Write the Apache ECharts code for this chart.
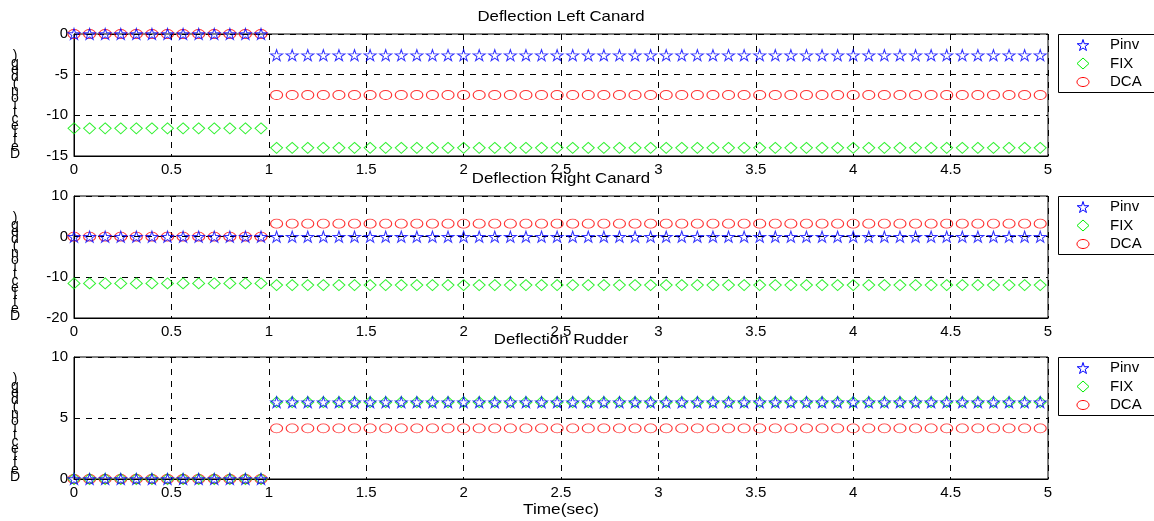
<!DOCTYPE html>
<html>
<head>
<meta charset="utf-8">
<script src="https://cdn.jsdelivr.net/npm/echarts@6/dist/echarts.min.js"></script>
<style>html,body{margin:0;padding:0;background:#fff;}#c{width:1154px;height:521px;}</style>
</head>
<body>
<div id="c"></div>
<script>
const time = [0,0.08,0.16,0.24,0.32,0.40,0.48,0.56,0.64,0.72,0.80,0.88,0.96,
1.04,1.12,1.20,1.28,1.36,1.44,1.52,1.60,1.68,1.76,1.84,1.92,2.00,2.08,2.16,2.24,2.32,2.40,2.48,2.56,2.64,2.72,2.80,2.88,2.96,
3.04,3.12,3.20,3.28,3.36,3.44,3.52,3.60,3.68,3.76,3.84,3.92,4.00,4.08,4.16,4.24,4.32,4.40,4.48,4.56,4.64,4.72,4.80,4.88,4.96];

const titles = ['Deflection Left Canard', 'Deflection Right Canard', 'Deflection Rudder'];
const seriesNames = ['Pinv', 'FIX', 'DCA'];
const xTicks = [0, 0.5, 1, 1.5, 2, 2.5, 3, 3.5, 4, 4.5, 5];
const yRanges = [[-15, 0, 5], [-20, 10, 10], [0, 10, 5]];
const xName = 'Time(sec)';
const yLabel = 'Deflection(deg)';

// Left canard
const leftPinv = [0,0,0,0,0,0,0,0,0,0,0,0,0,
-2.6,-2.6,-2.6,-2.6,-2.6,-2.6,-2.6,-2.6,-2.6,-2.6,-2.6,-2.6,-2.6,-2.6,-2.6,-2.6,-2.6,-2.6,-2.6,-2.6,-2.6,-2.6,-2.6,-2.6,-2.6,
-2.6,-2.6,-2.6,-2.6,-2.6,-2.6,-2.6,-2.6,-2.6,-2.6,-2.6,-2.6,-2.6,-2.6,-2.6,-2.6,-2.6,-2.6,-2.6,-2.6,-2.6,-2.6,-2.6,-2.6,-2.6];
const leftFix = [-11.6,-11.6,-11.6,-11.6,-11.6,-11.6,-11.6,-11.6,-11.6,-11.6,-11.6,-11.6,-11.6,
-14,-14,-14,-14,-14,-14,-14,-14,-14,-14,-14,-14,-14,-14,-14,-14,-14,-14,-14,-14,-14,-14,-14,-14,-14,
-14,-14,-14,-14,-14,-14,-14,-14,-14,-14,-14,-14,-14,-14,-14,-14,-14,-14,-14,-14,-14,-14,-14,-14,-14];
const leftDca = [0,0,0,0,0,0,0,0,0,0,0,0,0,
-7.5,-7.5,-7.5,-7.5,-7.5,-7.5,-7.5,-7.5,-7.5,-7.5,-7.5,-7.5,-7.5,-7.5,-7.5,-7.5,-7.5,-7.5,-7.5,-7.5,-7.5,-7.5,-7.5,-7.5,-7.5,
-7.5,-7.5,-7.5,-7.5,-7.5,-7.5,-7.5,-7.5,-7.5,-7.5,-7.5,-7.5,-7.5,-7.5,-7.5,-7.5,-7.5,-7.5,-7.5,-7.5,-7.5,-7.5,-7.5,-7.5,-7.5];

// Right canard
const rightPinv = [0,0,0,0,0,0,0,0,0,0,0,0,0,
0,0,0,0,0,0,0,0,0,0,0,0,0,0,0,0,0,0,0,0,0,0,0,0,0,
0,0,0,0,0,0,0,0,0,0,0,0,0,0,0,0,0,0,0,0,0,0,0,0,0];
const rightFix = [-11.5,-11.5,-11.5,-11.5,-11.5,-11.5,-11.5,-11.5,-11.5,-11.5,-11.5,-11.5,-11.5,
-11.9,-11.9,-11.9,-11.9,-11.9,-11.9,-11.9,-11.9,-11.9,-11.9,-11.9,-11.9,-11.9,-11.9,-11.9,-11.9,-11.9,-11.9,-11.9,-11.9,-11.9,-11.9,-11.9,-11.9,-11.9,
-11.9,-11.9,-11.9,-11.9,-11.9,-11.9,-11.9,-11.9,-11.9,-11.9,-11.9,-11.9,-11.9,-11.9,-11.9,-11.9,-11.9,-11.9,-11.9,-11.9,-11.9,-11.9,-11.9,-11.9,-11.9];
const rightDca = [0,0,0,0,0,0,0,0,0,0,0,0,0,
3.2,3.2,3.2,3.2,3.2,3.2,3.2,3.2,3.2,3.2,3.2,3.2,3.2,3.2,3.2,3.2,3.2,3.2,3.2,3.2,3.2,3.2,3.2,3.2,3.2,
3.2,3.2,3.2,3.2,3.2,3.2,3.2,3.2,3.2,3.2,3.2,3.2,3.2,3.2,3.2,3.2,3.2,3.2,3.2,3.2,3.2,3.2,3.2,3.2,3.2];

// Rudder
const rudderPinv = [0,0,0,0,0,0,0,0,0,0,0,0,0,
6.3,6.3,6.3,6.3,6.3,6.3,6.3,6.3,6.3,6.3,6.3,6.3,6.3,6.3,6.3,6.3,6.3,6.3,6.3,6.3,6.3,6.3,6.3,6.3,6.3,
6.3,6.3,6.3,6.3,6.3,6.3,6.3,6.3,6.3,6.3,6.3,6.3,6.3,6.3,6.3,6.3,6.3,6.3,6.3,6.3,6.3,6.3,6.3,6.3,6.3];
const rudderFix = [0,0,0,0,0,0,0,0,0,0,0,0,0,
6.3,6.3,6.3,6.3,6.3,6.3,6.3,6.3,6.3,6.3,6.3,6.3,6.3,6.3,6.3,6.3,6.3,6.3,6.3,6.3,6.3,6.3,6.3,6.3,6.3,
6.3,6.3,6.3,6.3,6.3,6.3,6.3,6.3,6.3,6.3,6.3,6.3,6.3,6.3,6.3,6.3,6.3,6.3,6.3,6.3,6.3,6.3,6.3,6.3,6.3];
const rudderDca = [0,0,0,0,0,0,0,0,0,0,0,0,0,
4.15,4.15,4.15,4.15,4.15,4.15,4.15,4.15,4.15,4.15,4.15,4.15,4.15,4.15,4.15,4.15,4.15,4.15,4.15,4.15,4.15,4.15,4.15,4.15,4.15,
4.15,4.15,4.15,4.15,4.15,4.15,4.15,4.15,4.15,4.15,4.15,4.15,4.15,4.15,4.15,4.15,4.15,4.15,4.15,4.15,4.15,4.15,4.15,4.15,4.15];

const panels = [
  [leftPinv, leftFix, leftDca],
  [rightPinv, rightFix, rightDca],
  [rudderPinv, rudderFix, rudderDca]
];

const FONT = 'Liberation Sans, Arial, Helvetica, sans-serif';
const STAR_PTS = [[50,0],[61,35],[98,35],[68,57],[79,91],[50,70],[21,91],[32,57],[2,35],[39,35]];
const STAR = 'path://M' + STAR_PTS.map(p => p.join(',')).join(' L') + ' Z';
const colors = ['#0000ff', '#00ee00', '#ff0000'];
const symbols = [STAR, 'diamond', 'circle'];
const symSizes = [[12, 11], [12, 11], [12, 9]];

const gridTops = [34, 196, 357];
const gridH = 122;
const gridLeft = 74, gridRight = 106;

const chart = echarts.init(document.getElementById('c'), null, {renderer: 'canvas'});

function legendIcon(k, cx, cy) {
  const w = symSizes[k][0], h = symSizes[k][1];
  const st = {fill: 'none', stroke: colors[k], lineWidth: 1};
  if (k === 0) {
    return {type: 'polygon', z: 21, shape: {points: STAR_PTS.map(p => [cx - w / 2 + p[0] / 100 * w, cy - h / 2 + p[1] / 91 * h])}, style: st};
  } else if (k === 1) {
    return {type: 'polygon', z: 21, shape: {points: [[cx, cy - h / 2], [cx + w / 2, cy], [cx, cy + h / 2], [cx - w / 2, cy]]}, style: st};
  }
  return {type: 'ellipse', z: 21, shape: {cx: cx, cy: cy, rx: w / 2, ry: h / 2}, style: st};
}

const grids = [], xAxes = [], yAxes = [], series = [], graphics = [];
gridTops.forEach((top, i) => {
  grids.push({left: gridLeft, right: gridRight, top: top, height: gridH, show: true,
    borderColor: '#000', borderWidth: 1, backgroundColor: '#fff', containLabel: false});
  xAxes.push({
    gridIndex: i, type: 'value', min: xTicks[0], max: xTicks[xTicks.length - 1], interval: 0.5,
    axisLine: {show: true, onZero: false, lineStyle: {color: '#000', width: 1}},
    axisTick: {show: false},
    axisLabel: {color: '#000', fontFamily: FONT, fontSize: 15, margin: 6},
    splitLine: {show: true, lineStyle: {color: '#000', type: [6, 6], width: 1}}
  });
  const r = yRanges[i];
  yAxes.push({
    gridIndex: i, type: 'value', min: r[0], max: r[1], interval: r[2],
    axisLine: {show: true, onZero: false, lineStyle: {color: '#000', width: 1}},
    axisTick: {show: false},
    axisLabel: {color: '#000', fontFamily: FONT, fontSize: 15, margin: 6},
    splitLine: {show: true, lineStyle: {color: '#000', type: [6, 6], width: 1}}
  });
  // draw order: DCA, FIX, Pinv (Pinv on top)
  [2, 1, 0].forEach(k => {
    series.push({
      type: 'scatter', name: seriesNames[k], xAxisIndex: i, yAxisIndex: i,
      data: time.map((t, j) => [t, panels[i][k][j]]),
      symbol: symbols[k], symbolSize: symSizes[k], clip: false,
      itemStyle: {color: 'rgba(0,0,0,0)', borderColor: colors[k], borderWidth: 1},
      emphasis: {disabled: true}, animation: false, z: 3 + (2 - k)
    });
  });
  // legend box
  graphics.push({type: 'rect', z: 20, shape: {x: 1058.5, y: top + 0.5, width: 120, height: 58},
    style: {fill: '#fff', stroke: '#000', lineWidth: 1}});
  const rows = [top + 11, top + 29.5, top + 48];
  seriesNames.forEach((n, k) => {
    graphics.push(legendIcon(k, 1083, rows[k]));
    graphics.push({type: 'text', x: 1110, y: rows[k], z: 21,
      style: {text: n, font: '15px ' + FONT, fill: '#000', textAlign: 'left', textVerticalAlign: 'middle'}});
  });
  graphics.push({
    type: 'text', x: 561, y: top - 17, z: 10, scaleX: 1.12,
    style: {text: titles[i], font: '15px ' + FONT, fill: '#000', textAlign: 'center', textVerticalAlign: 'middle'}
  });
  const bottom = top + gridH + 2;
  graphics.push({
    type: 'text', x: 15, y: bottom, z: 10,
    style: {text: yLabel.split('').reverse().join('\n'), font: '14px ' + FONT, fill: '#000',
      lineHeight: 7, textAlign: 'center', textVerticalAlign: 'bottom'}
  });
});
graphics.push({
  type: 'text', x: 561, y: 510, z: 10, scaleX: 1.15,
  style: {text: xName, font: '15px ' + FONT, fill: '#000', textAlign: 'center', textVerticalAlign: 'middle'}
});

chart.setOption({
  animation: false,
  backgroundColor: '#fff',
  grid: grids, xAxis: xAxes, yAxis: yAxes, series: series,
  graphic: graphics
});
</script>
</body>
</html>
